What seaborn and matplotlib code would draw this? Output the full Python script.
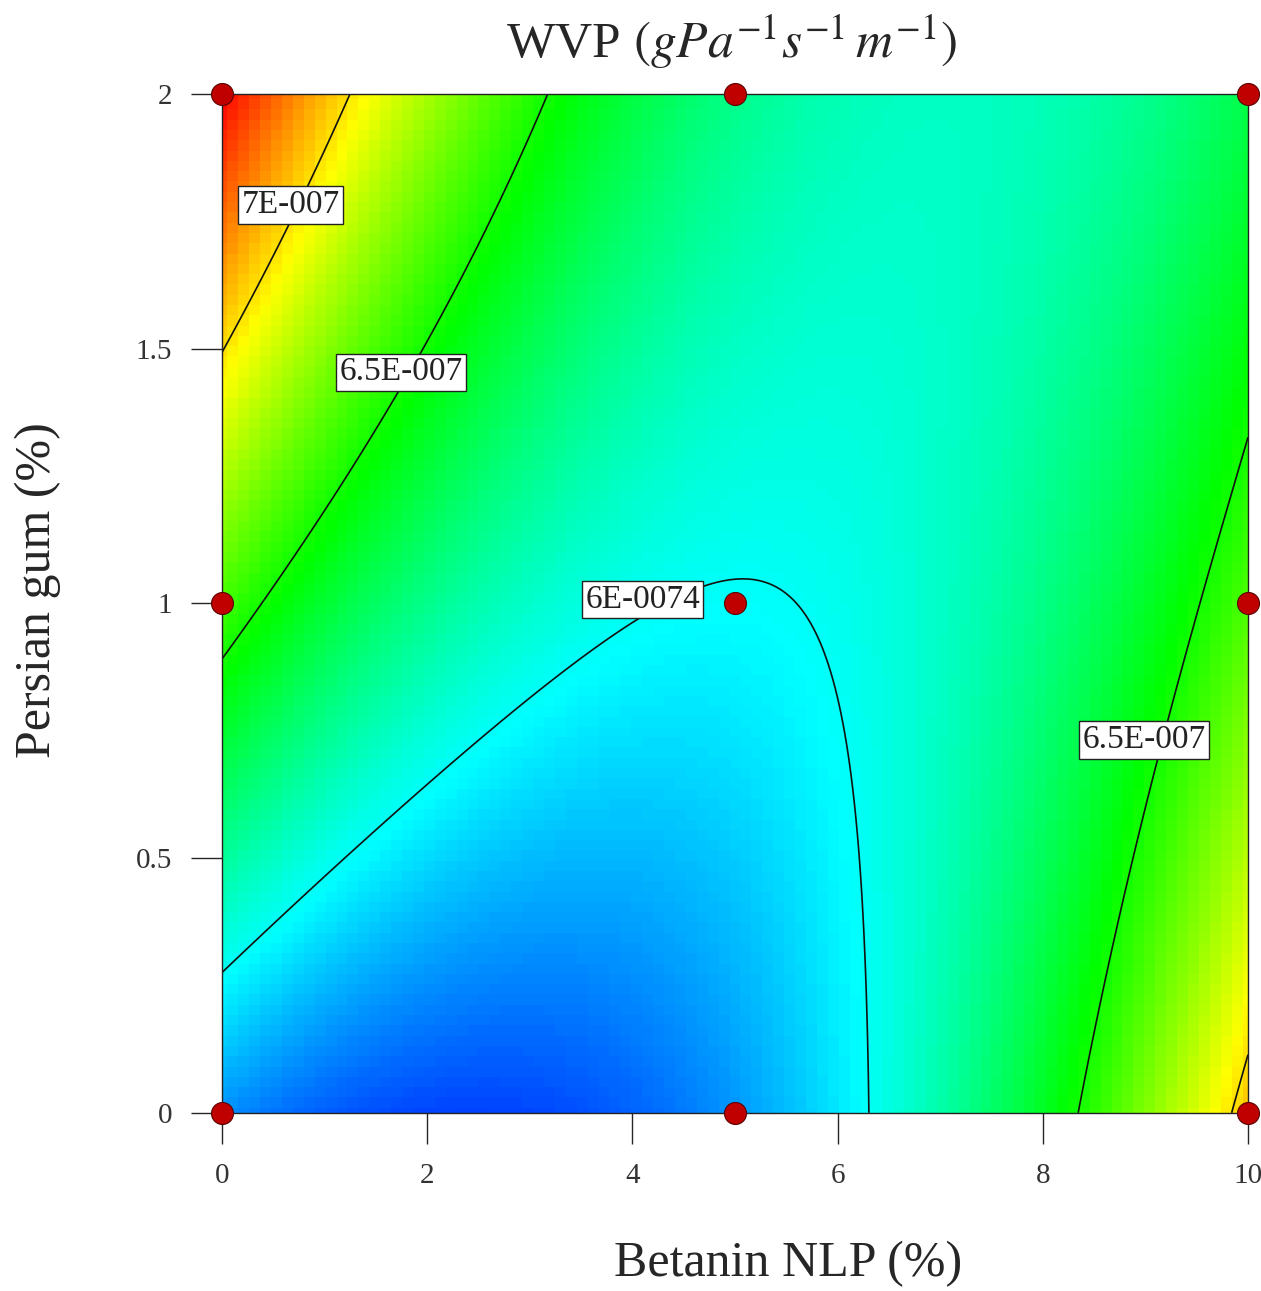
import numpy as np
import pandas as pd
import matplotlib
matplotlib.use("Agg")
import matplotlib.pyplot as plt
from matplotlib.colors import LinearSegmentedColormap
import seaborn as sns

# design points (3x3 factorial) and measured WVP
betanin = [0, 5, 10]          # Betanin NLP (%)
gum = [0, 1, 2]               # Persian gum (%)
wvp_gum0 = [5.78e-7, 5.79e-7, 7.06e-7]
wvp_gum1 = [6.59e-7, 5.99e-7, 6.61e-7]
wvp_gum2 = [7.43e-7, 6.21e-7, 6.33e-7]

contour_levels = [6e-7, 6.5e-7, 7e-7]
label_texts = ["7E-007", "6.5E-007", "6E-0074", "6.5E-007"]
label_x = [0.67, 1.745, 4.10, 8.99]
label_y = [1.782, 1.454, 1.007, 0.732]

sns.set_style("ticks")
plt.rcParams["font.family"] = ["Liberation Serif", "DejaVu Serif"]
plt.rcParams["mathtext.fontset"] = "stix"

rows = np.array([wvp_gum0, wvp_gum1, wvp_gum2])


def surface(xv, yv):
    # quadratic in betanin for each gum level, then quadratic in gum
    along_x = np.array([np.polyval(np.polyfit(betanin, r, 2), xv) for r in rows])
    coefs = np.polyfit(gum, along_x, 2)
    yy = np.asarray(yv)[:, None]
    return coefs[0] * yy**2 + coefs[1] * yy + coefs[2]


# coarse cells for the shading (blocky look), fine grid for the lines
xc = np.linspace(0, 10, 95)
yc = np.linspace(0, 2, 100)
zc = surface(xc, yc)
xf = np.linspace(0, 10, 301)
yf = np.linspace(0, 2, 301)
zf = surface(xf, yf)

cmap = LinearSegmentedColormap.from_list(
    "de", ["#0000ff", "#00ffff", "#00ff00", "#ffff00", "#ff0000"])

fig = plt.figure(figsize=(12.61, 12.91), dpi=100)
ax = fig.add_axes([0.176, 0.138, 0.8137, 0.7892])

ax.pcolormesh(xc, yc, zc, cmap=cmap, shading="nearest",
              vmin=5.50e-7, vmax=zf.max(), zorder=1)
ax.contour(xf, yf, zf, levels=contour_levels, colors="#111111",
           linewidths=1.2, zorder=2)

for t, lx, ly in zip(label_texts, label_x, label_y):
    ax.text(lx, ly, t, fontsize=24, ha="center", va="center", zorder=3,
            color="#222222",
            bbox=dict(boxstyle="square,pad=0.1", fc="white", ec="#222222", lw=1))

pts = pd.DataFrame({"x": np.tile(betanin, 3), "y": np.repeat(gum, 3)})
sns.scatterplot(data=pts, x="x", y="y", ax=ax, color="#c00000", s=250,
                edgecolor="#5a0000", linewidth=0.8, clip_on=False, zorder=6,
                legend=False)

ax.set_xlim(0, 10)
ax.set_ylim(0, 2)
ax.set_xticks([0, 2, 4, 6, 8, 10])
ax.set_yticks([0, 0.5, 1, 1.5, 2])
ax.set_yticklabels(["0", "0.5", "1", "1.5", "2"])
ax.tick_params(direction="out", length=22, width=1, labelsize=21,
               labelcolor="#333333", pad=14)
for s in ax.spines.values():
    s.set_linewidth(1)
    s.set_color("#222222")
ax.set_xlabel("")
ax.set_ylabel("")

fig.text(0.625, 0.021, "Betanin NLP (%)", fontsize=36, ha="center", va="center")
fig.text(0.030, 0.543, "Persian gum (%)", fontsize=36, ha="center", va="center",
         rotation=90)
fig.text(0.58, 0.968, r"WVP $(gPa^{-1}s^{-1}\,m^{-1})$", fontsize=37,
         ha="center", va="center")

fig.savefig("out.png", dpi=100)
